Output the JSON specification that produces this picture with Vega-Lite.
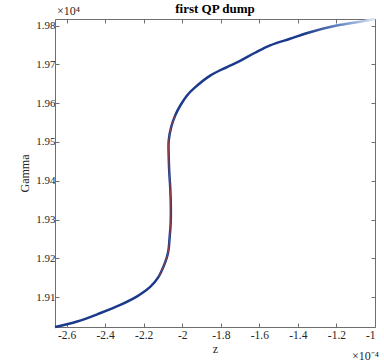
{
  "$schema": "https://vega.github.io/schema/vega-lite/v6.json",
  "width": 320,
  "height": 308,
  "autosize": {"type": "none"},
  "padding": {"left": 55, "top": 19, "right": 9, "bottom": 34},
  "background": "white",
  "title": {"text": "first QP dump", "font": "Liberation Serif", "fontSize": 13, "fontWeight": "bold", "color": "#000000", "anchor": "middle", "offset": -12},
  "datasets": {
    "curve": [
      {"z": -2.66, "gamma": 1.9023},
      {"z": -2.545, "gamma": 1.9037},
      {"z": -2.424, "gamma": 1.9059},
      {"z": -2.321, "gamma": 1.908},
      {"z": -2.234, "gamma": 1.9102},
      {"z": -2.165, "gamma": 1.9127},
      {"z": -2.122, "gamma": 1.9153},
      {"z": -2.097, "gamma": 1.9179},
      {"z": -2.079, "gamma": 1.9204},
      {"z": -2.071, "gamma": 1.9222},
      {"z": -2.066, "gamma": 1.925},
      {"z": -2.06, "gamma": 1.929},
      {"z": -2.059, "gamma": 1.933},
      {"z": -2.062, "gamma": 1.938},
      {"z": -2.067, "gamma": 1.942},
      {"z": -2.07, "gamma": 1.946},
      {"z": -2.07, "gamma": 1.9504},
      {"z": -2.057, "gamma": 1.9539},
      {"z": -2.036, "gamma": 1.9569},
      {"z": -2.01, "gamma": 1.9594},
      {"z": -1.975, "gamma": 1.962},
      {"z": -1.935, "gamma": 1.964},
      {"z": -1.855, "gamma": 1.9671},
      {"z": -1.768, "gamma": 1.9693},
      {"z": -1.7, "gamma": 1.9709},
      {"z": -1.622, "gamma": 1.973},
      {"z": -1.544, "gamma": 1.9749},
      {"z": -1.441, "gamma": 1.9766},
      {"z": -1.337, "gamma": 1.9783},
      {"z": -1.199, "gamma": 1.98},
      {"z": -1.079, "gamma": 1.981},
      {"z": -1.0, "gamma": 1.9817}
    ],
    "red": [
      {"z": -2.122, "gamma": 1.9153},
      {"z": -2.097, "gamma": 1.9179},
      {"z": -2.079, "gamma": 1.9204},
      {"z": -2.071, "gamma": 1.9222},
      {"z": -2.066, "gamma": 1.925},
      {"z": -2.06, "gamma": 1.929},
      {"z": -2.059, "gamma": 1.933},
      {"z": -2.062, "gamma": 1.938},
      {"z": -2.067, "gamma": 1.942},
      {"z": -2.07, "gamma": 1.946},
      {"z": -2.07, "gamma": 1.9504},
      {"z": -2.057, "gamma": 1.9539},
      {"z": -2.036, "gamma": 1.9569}
    ]
  },
  "config": {
    "view": {"stroke": null},
    "axis": {
      "grid": false,
      "domainColor": "#6e6e6e",
      "domainWidth": 1,
      "tickColor": "#6e6e6e",
      "tickSize": -4,
      "tickWidth": 1,
      "labelFont": "Liberation Serif",
      "labelFontSize": 11.5,
      "labelColor": "#262626",
      "titleFont": "Liberation Serif",
      "titleFontSize": 12,
      "titleFontWeight": "normal",
      "titleColor": "#262626"
    }
  },
  "resolve": {"axis": {"x": "independent", "y": "independent"}},
  "layer": [
    {
      "data": {"name": "curve"},
      "mark": {
        "type": "line",
        "strokeWidth": 2.5,
        "interpolate": "catmull-rom",
        "color": {
          "gradient": "linear",
          "x1": 0, "y1": 0, "x2": 1, "y2": 0,
          "stops": [
            {"offset": 0, "color": "#1b3a8c"},
            {"offset": 0.78, "color": "#1b3a8c"},
            {"offset": 0.9, "color": "#6f8fc9"},
            {"offset": 1, "color": "#dfe7f4"}
          ]
        }
      },
      "encoding": {
        "x": {
          "field": "z", "type": "quantitative",
          "scale": {"domain": [-2.66, -1.0], "nice": false, "zero": false},
          "axis": {"orient": "bottom", "values": [-2.6, -2.4, -2.2, -2.0, -1.8, -1.6, -1.4, -1.2, -1.0], "format": "~g", "labelExpr": "replace(datum.label, '\u2212', '-')", "labelPadding": 6, "title": "z", "titlePadding": 3}
        },
        "y": {
          "field": "gamma", "type": "quantitative",
          "scale": {"domain": [1.9023, 1.9817], "nice": false, "zero": false},
          "axis": {"orient": "left", "values": [1.91, 1.92, 1.93, 1.94, 1.95, 1.96, 1.97, 1.98], "format": ".2f", "labelPadding": 4, "labelFontSize": 11, "title": "Gamma", "titlePadding": 4}
        },
        "order": {"field": "gamma", "type": "quantitative"}
      }
    },
    {
      "data": {"name": "red"},
      "mark": {"type": "line", "strokeWidth": 1, "color": "#c8402a", "opacity": 0.75, "interpolate": "catmull-rom"},
      "encoding": {
        "x": {
          "field": "z", "type": "quantitative",
          "scale": {"domain": [-2.66, -1.0], "nice": false, "zero": false},
          "axis": {"orient": "top", "values": [-2.6, -2.4, -2.2, -2.0, -1.8, -1.6, -1.4, -1.2, -1.0], "labels": false, "title": "\u00d710\u2074", "titleAngle": 0, "titleX": 13, "titleY": -5, "titleAlign": "center", "titleBaseline": "alphabetic", "titleFontSize": 12}
        },
        "y": {
          "field": "gamma", "type": "quantitative",
          "scale": {"domain": [1.9023, 1.9817], "nice": false, "zero": false},
          "axis": {"orient": "right", "values": [1.91, 1.92, 1.93, 1.94, 1.95, 1.96, 1.97, 1.98], "labels": false, "title": "\u00d710\u207b\u2074", "titleAngle": 0, "titleX": -10, "titleY": 340, "titleAlign": "center", "titleBaseline": "alphabetic", "titleFontSize": 12}
        },
        "order": {"field": "gamma", "type": "quantitative"}
      }
    }
  ]
}
